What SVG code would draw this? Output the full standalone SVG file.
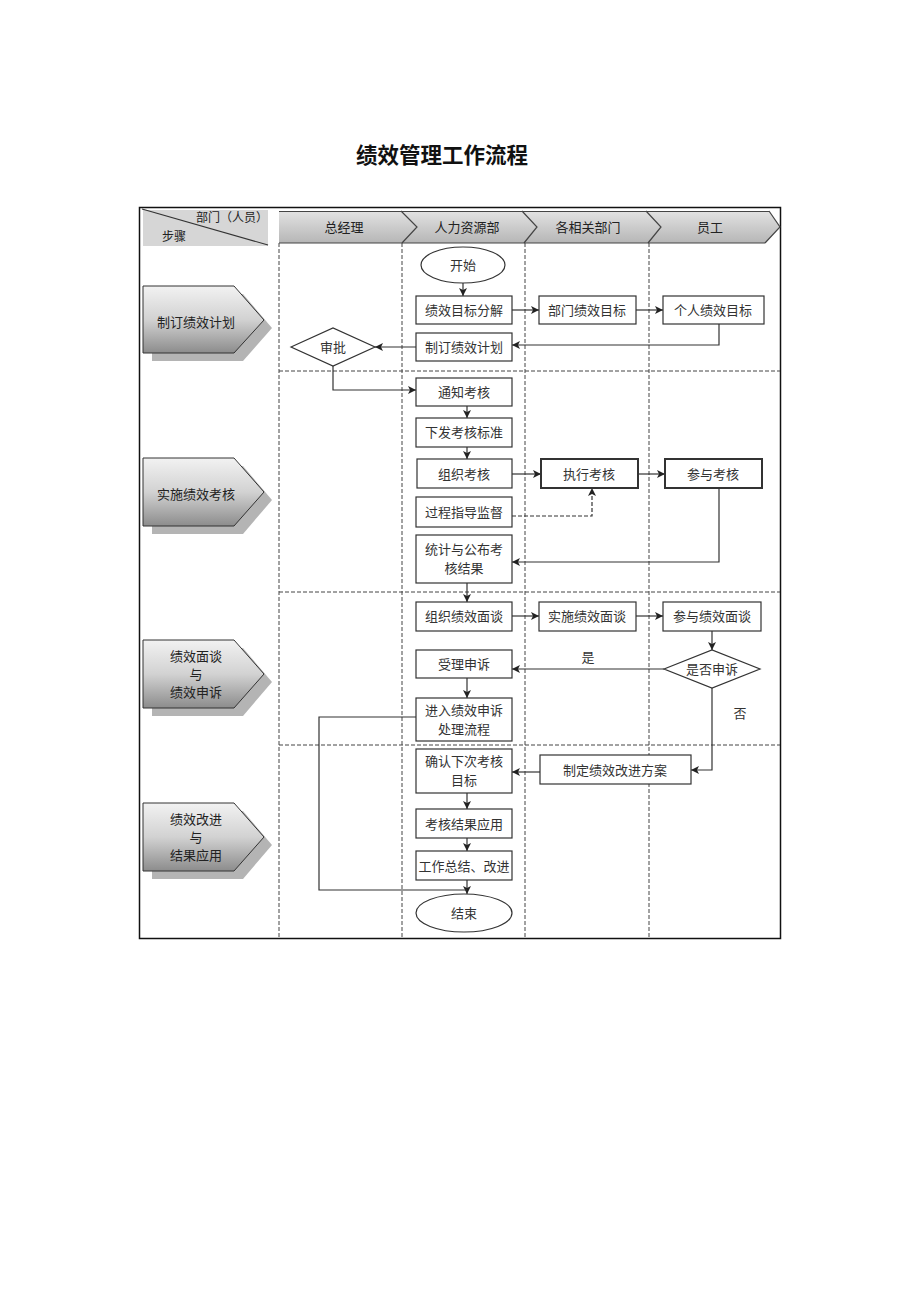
<svg xmlns="http://www.w3.org/2000/svg" width="920" height="1302" viewBox="0 0 920 1302">
<defs>
<style>
.box{fill:#fff;stroke:#333;stroke-width:1.2}
.bold{stroke-width:2}
.t{font-family:"Noto Sans CJK SC",sans-serif;font-size:13px;fill:#333;text-anchor:middle}
.h{font-family:"Noto Sans CJK SC",sans-serif;font-size:13px;fill:#222;text-anchor:middle}
.lane{fill:none;stroke:#444;stroke-width:1;stroke-dasharray:4,2}
.c{fill:none;stroke:#333;stroke-width:1.2}
.ca{fill:none;stroke:#333;stroke-width:1.2;marker-end:url(#ah)}
.dash{stroke-dasharray:4,2}
.pent{fill:url(#pg);stroke:#333;stroke-width:1}
.shadow{fill:#b4b4b4}
</style>
<linearGradient id="pg" x1="0" y1="0" x2="0" y2="1">
<stop offset="0" stop-color="#f2f2f2"/>
<stop offset="0.5" stop-color="#d2d2d2"/>
<stop offset="1" stop-color="#8c8c8c"/>
</linearGradient>
<linearGradient id="hg" x1="0" y1="0" x2="0" y2="1">
<stop offset="0" stop-color="#e2e2e2"/>
<stop offset="1" stop-color="#b6b6b6"/>
</linearGradient>
<marker id="ah" markerUnits="userSpaceOnUse" markerWidth="9" markerHeight="8" refX="8" refY="4" orient="auto">
<path d="M0,0 L8,4 L0,8 L2,4 z" fill="#222"/>
</marker>
</defs>
<rect width="920" height="1302" fill="#fff"/>
<text x="442" y="163" font-family="Noto Sans CJK SC,sans-serif" font-size="21.5" font-weight="bold" fill="#111" text-anchor="middle">绩效管理工作流程</text>

<g id="frame">
<rect x="139.5" y="207.5" width="641" height="731" fill="none" stroke="#111" stroke-width="1.5"/>
</g>

<g id="corner-header">
<rect x="143" y="210" width="125" height="36" fill="#d6d6d6"/>
<line x1="142" y1="209" x2="268" y2="245" stroke="#333" stroke-width="1.2"/>
<text x="268" y="222" font-family="Noto Sans CJK SC,sans-serif" font-size="12" fill="#222" text-anchor="end">部门（人员）</text>
<text x="174" y="241" font-family="Noto Sans CJK SC,sans-serif" font-size="12" fill="#222" text-anchor="middle">步骤</text>
</g>

<g id="lane-headers">
<polygon points="279,211 769,211 780,227 765,243 279,243" fill="url(#hg)"/>
<line x1="279" y1="211.5" x2="769" y2="211.5" stroke="#444" stroke-width="1"/>
<line x1="279" y1="243" x2="765" y2="243" stroke="#444" stroke-width="1.2"/>
<polyline points="401,211 417,227 402,243" fill="none" stroke="#444" stroke-width="1.2"/>
<polyline points="522,211 537,227 524,243" fill="none" stroke="#444" stroke-width="1.2"/>
<polyline points="646,211 661,227 648,243" fill="none" stroke="#444" stroke-width="1.2"/>
<polyline points="769,211 780,227 765,243" fill="none" stroke="#444" stroke-width="1.2"/>
<text class="h" x="344" y="232">总经理</text>
<text class="h" x="467" y="232">人力资源部</text>
<text class="h" x="588" y="232">各相关部门</text>
<text class="h" x="710" y="232">员工</text>
</g>

<g id="lanes">
<line class="lane" x1="279" y1="243" x2="279" y2="938"/>
<line class="lane" x1="402" y1="243" x2="402" y2="938"/>
<line class="lane" x1="525" y1="243" x2="525" y2="938"/>
<line class="lane" x1="649" y1="243" x2="649" y2="938"/>
<line class="lane" x1="279" y1="371" x2="780" y2="371"/>
<line class="lane" x1="279" y1="592" x2="780" y2="592"/>
<line class="lane" x1="279" y1="745" x2="780" y2="745"/>
</g>

<g id="phase1">
<polygon class="shadow" points="152,294 243,294 272,328 243,361 152,361"/>
<polygon class="pent" points="143,286 234,286 264,320 234,353 143,353"/>
<text class="h" x="196" y="327">制订绩效计划</text>
</g>
<g id="phase2">
<polygon class="shadow" points="152,466 243,466 272,500 243,534 152,534"/>
<polygon class="pent" points="143,458 234,458 264,492 234,526 143,526"/>
<text class="h" x="196" y="499">实施绩效考核</text>
</g>
<g id="phase3">
<polygon class="shadow" points="152,648 243,648 272,682 243,716 152,716"/>
<polygon class="pent" points="143,640 234,640 264,674 234,708 143,708"/>
<text class="h" x="196" y="661">绩效面谈</text>
<text class="h" x="196" y="679">与</text>
<text class="h" x="196" y="697">绩效申诉</text>
</g>
<g id="phase4">
<polygon class="shadow" points="152,811 243,811 272,845 243,879 152,879"/>
<polygon class="pent" points="143,803 234,803 264,837 234,871 143,871"/>
<text class="h" x="196" y="824">绩效改进</text>
<text class="h" x="196" y="842">与</text>
<text class="h" x="196" y="860">结果应用</text>
</g>

<g id="connectors">
<path class="ca" d="M463,283 V296"/>
<path class="ca" d="M512,310 H539"/>
<path class="ca" d="M636,310 H663"/>
<path class="ca" d="M719,324 V345 H512"/>
<path class="ca" d="M416,347 H375"/>
<path class="ca" d="M333,366 V390 H416"/>
<path class="ca" d="M467,406 V418"/>
<path class="ca" d="M467,447 V459"/>
<path class="ca" d="M512,474 H541"/>
<path class="ca" d="M638,474 H665"/>
<path class="ca dash" d="M512,516 H592 V488"/>
<path class="ca" d="M719,488 V562 H512"/>
<path class="ca" d="M467,583 V602"/>
<path class="ca" d="M512,616 H539"/>
<path class="ca" d="M636,616 H663"/>
<path class="ca" d="M712,631 V650"/>
<path class="ca" d="M664,669 H512"/>
<path class="ca" d="M467,678 V698"/>
<path class="ca" d="M712,688 V770 H691"/>
<path class="ca" d="M540,772 H512"/>
<path class="ca" d="M467,793 V809"/>
<path class="ca" d="M467,838 V851"/>
<path class="ca" d="M467,880 V894"/>
<path class="c" d="M416,717 H319 V890 H467"/>
<text class="t" x="588" y="662">是</text>
<text class="t" x="740" y="718">否</text>
</g>

<g id="n-start"><ellipse class="box" cx="463" cy="265" rx="42" ry="18"/><text class="t" x="463" y="270">开始</text></g>
<g id="n-decompose"><rect class="box" x="416" y="296" width="96" height="28"/><text class="t" x="464" y="315">绩效目标分解</text></g>
<g id="n-plan"><rect class="box" x="416" y="333" width="96" height="28"/><text class="t" x="464" y="352">制订绩效计划</text></g>
<g id="n-approve"><polygon class="box" points="291,347 333,328 375,347 333,366"/><text class="t" x="333" y="352">审批</text></g>
<g id="n-dept-goal"><rect class="box" x="539" y="296" width="97" height="28"/><text class="t" x="587" y="315">部门绩效目标</text></g>
<g id="n-personal-goal"><rect class="box" x="663" y="296" width="101" height="28"/><text class="t" x="713" y="315">个人绩效目标</text></g>

<g id="n-notify"><rect class="box" x="416" y="378" width="96" height="28"/><text class="t" x="464" y="397">通知考核</text></g>
<g id="n-standard"><rect class="box" x="416" y="418" width="96" height="29"/><text class="t" x="464" y="437">下发考核标准</text></g>
<g id="n-organize"><rect class="box" x="417" y="459" width="95" height="29"/><text class="t" x="464" y="479">组织考核</text></g>
<g id="n-supervise"><rect class="box" x="416" y="497" width="96" height="30"/><text class="t" x="464" y="517">过程指导监督</text></g>
<g id="n-result"><rect class="box" x="416" y="535" width="96" height="48"/><text class="t" x="464" y="554">统计与公布考</text><text class="t" x="464" y="573">核结果</text></g>
<g id="n-execute"><rect class="box bold" x="541" y="459" width="97" height="29"/><text class="t" x="589" y="479">执行考核</text></g>
<g id="n-participate"><rect class="box bold" x="665" y="459" width="97" height="29"/><text class="t" x="713" y="479">参与考核</text></g>

<g id="n-org-interview"><rect class="box" x="416" y="602" width="96" height="29"/><text class="t" x="464" y="621">组织绩效面谈</text></g>
<g id="n-do-interview"><rect class="box" x="539" y="602" width="97" height="29"/><text class="t" x="587" y="621">实施绩效面谈</text></g>
<g id="n-join-interview"><rect class="box" x="663" y="602" width="98" height="29"/><text class="t" x="712" y="621">参与绩效面谈</text></g>
<g id="n-accept"><rect class="box" x="416" y="650" width="96" height="28"/><text class="t" x="464" y="669">受理申诉</text></g>
<g id="n-appeal-flow"><rect class="box" x="416" y="698" width="96" height="43"/><text class="t" x="464" y="715">进入绩效申诉</text><text class="t" x="464" y="734">处理流程</text></g>
<g id="n-appeal-q"><polygon class="box" points="664,669 712,650 760,669 712,688"/><text class="t" x="712" y="674">是否申诉</text></g>

<g id="n-next-goal"><rect class="box" x="416" y="749" width="96" height="44"/><text class="t" x="464" y="766">确认下次考核</text><text class="t" x="464" y="785">目标</text></g>
<g id="n-improve"><rect class="box" x="540" y="755" width="151" height="29"/><text class="t" x="615" y="775">制定绩效改进方案</text></g>
<g id="n-apply"><rect class="box" x="416" y="809" width="96" height="29"/><text class="t" x="464" y="829">考核结果应用</text></g>
<g id="n-summary"><rect class="box" x="416" y="851" width="96" height="29"/><text class="t" x="464" y="871">工作总结、改进</text></g>
<g id="n-end"><ellipse class="box" cx="464" cy="913" rx="48" ry="19"/><text class="t" x="464" y="918">结束</text></g>
</svg>
